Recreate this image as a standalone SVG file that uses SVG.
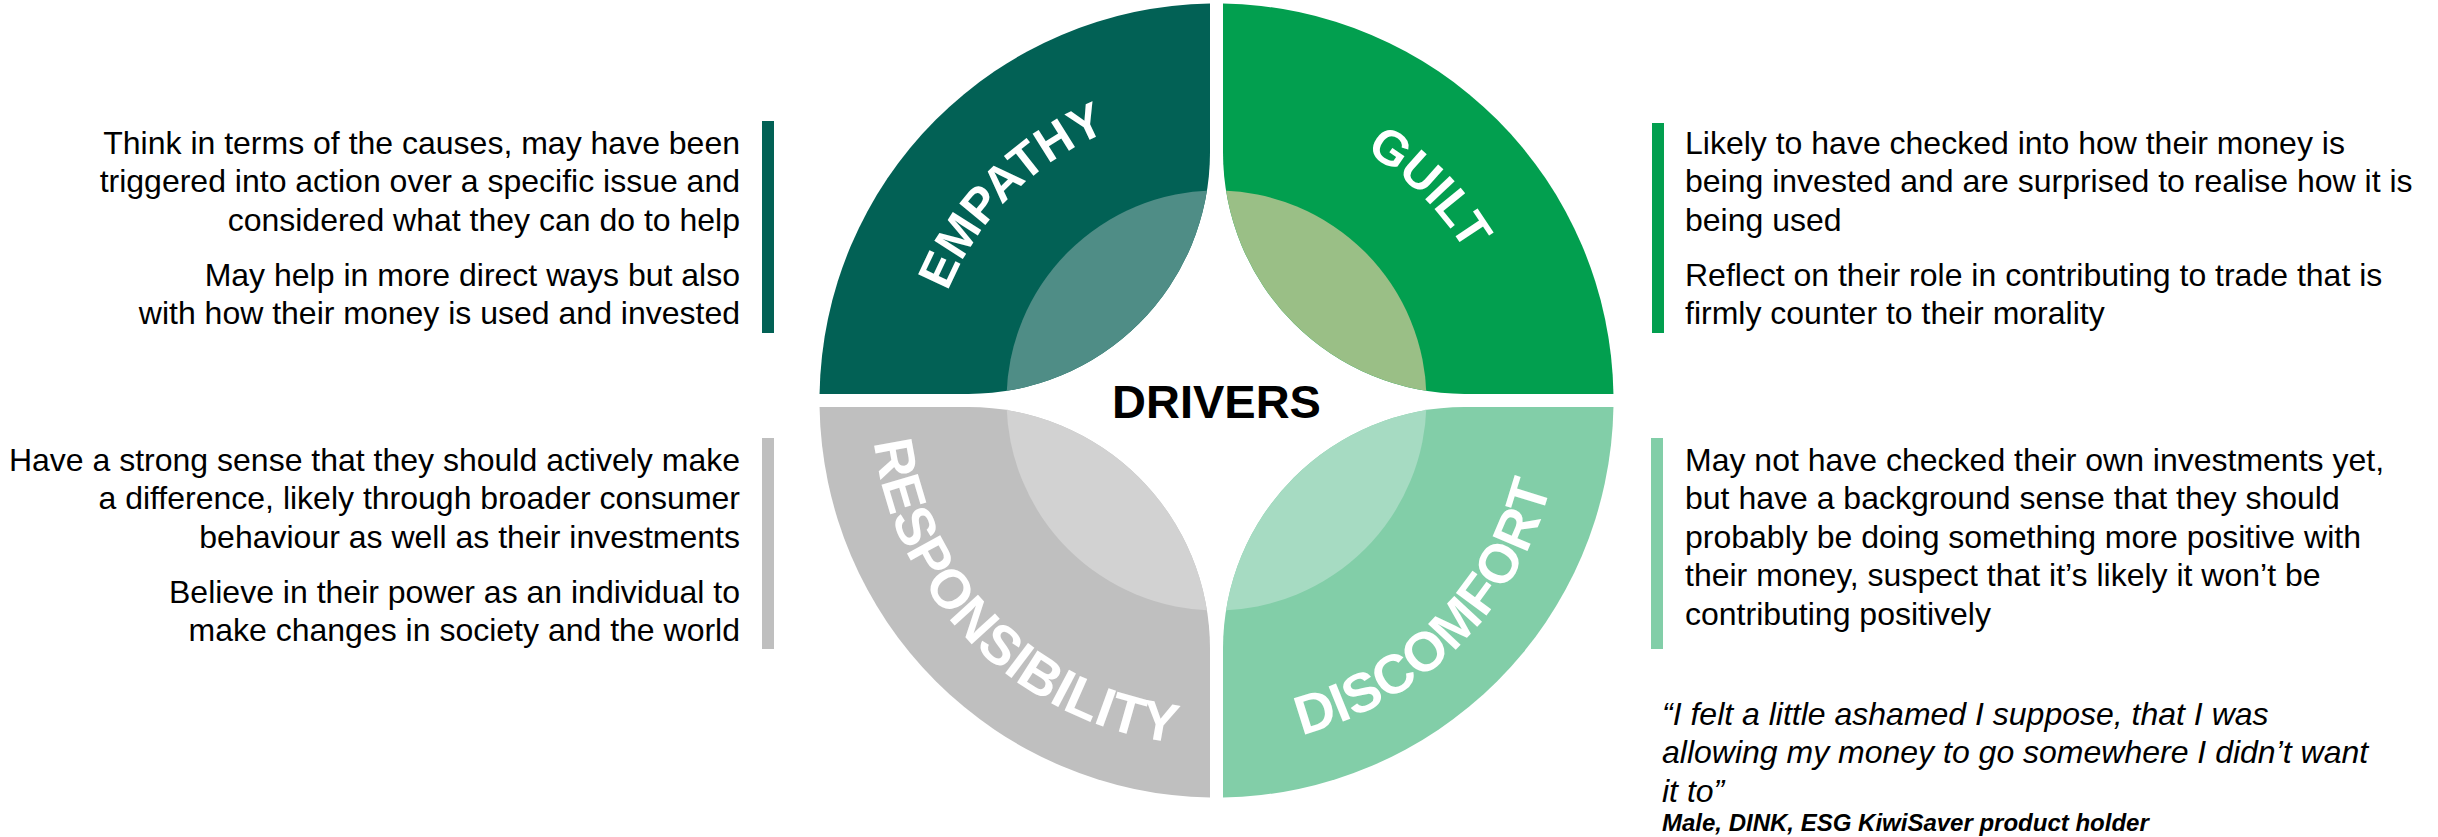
<svg xmlns="http://www.w3.org/2000/svg" width="2438" height="837" viewBox="0 0 2438 837">
<style>
.body{font-family:"Liberation Sans",Arial,sans-serif;font-size:32px;fill:#000}
.r{text-anchor:end}
.lbl{font-family:"Liberation Sans",Arial,sans-serif;font-weight:bold;fill:#fff}
.top{font-size:49px}
.bot{font-size:55px}
.quote{font-family:"Liberation Sans",Arial,sans-serif;font-style:italic;font-size:32px;fill:#000}
.src{font-family:"Liberation Sans",Arial,sans-serif;font-style:italic;font-weight:bold;font-size:24px;fill:#000}
.title{font-family:"Liberation Sans",Arial,sans-serif;font-weight:bold;font-size:47px;fill:#000;text-anchor:middle}
</style>
<defs>
<path id="qE" d="M1210,3.55 L1210,152.5 A241.5,241.5 0 0 1 968.5,394 L819.55,394 A397,397 0 0 1 1210,3.55 Z"/>
<path id="qG" d="M1223,3.55 L1223,152.5 A241.5,241.5 0 0 0 1464.5,394 L1613.45,394 A397,397 0 0 0 1223,3.55 Z"/>
<path id="qR" d="M1210,797.45 L1210,648.5 A241.5,241.5 0 0 0 968.5,407 L819.55,407 A397,397 0 0 0 1210,797.45 Z"/>
<path id="qD" d="M1223,797.45 L1223,648.5 A241.5,241.5 0 0 1 1464.5,407 L1613.45,407 A397,397 0 0 1 1223,797.45 Z"/>
<clipPath id="cE"><use href="#qE"/></clipPath>
<clipPath id="cG"><use href="#qG"/></clipPath>
<clipPath id="cR"><use href="#qR"/></clipPath>
<clipPath id="cD"><use href="#qD"/></clipPath>
<path id="tE" d="M926.5,400.5 A290,290 0 0 1 1216.5,110.5"/>
<path id="tG" d="M1216.5,110.5 A290,290 0 0 1 1506.5,400.5"/>
<path id="tR" d="M871.5,400.5 A345,345 0 0 0 1216.5,745.5"/>
<path id="tD" d="M1216.5,745.5 A345,345 0 0 0 1561.5,400.5"/>
</defs>
<rect width="2438" height="837" fill="#fff"/>

<g id="empathy">
<use href="#qE" fill="#026155"/>
<circle cx="1216.5" cy="400.5" r="210" fill="#4F8D86" clip-path="url(#cE)"/>
<text class="lbl top"><textPath href="#tE" startOffset="50%" text-anchor="middle">EMPATHY</textPath></text>
</g>
<g id="guilt">
<use href="#qG" fill="#029F4F"/>
<circle cx="1216.5" cy="400.5" r="210" fill="#9ABF86" clip-path="url(#cG)"/>
<text class="lbl top"><textPath href="#tG" startOffset="50%" text-anchor="middle">GUILT</textPath></text>
</g>
<g id="responsibility">
<use href="#qR" fill="#BFBFBF"/>
<circle cx="1216.5" cy="400.5" r="210" fill="#D2D2D2" clip-path="url(#cR)"/>
<text class="lbl bot"><textPath href="#tR" startOffset="50%" text-anchor="middle">RESPONSIBILITY</textPath></text>
</g>
<g id="discomfort">
<use href="#qD" fill="#82CEA8"/>
<circle cx="1216.5" cy="400.5" r="210" fill="#A6DBC2" clip-path="url(#cD)"/>
<text class="lbl bot"><textPath href="#tD" startOffset="50%" text-anchor="middle">DISCOMFORT</textPath></text>
</g>
<g id="drivers">
<text class="title" x="1216.5" y="418">DRIVERS</text>
</g>

<g id="empathy-text">
<rect x="762" y="121" width="12" height="212" fill="#026155"/>
<text class="body r" x="740" y="154">Think in terms of the causes, may have been</text>
<text class="body r" x="740" y="192.4">triggered into action over a specific issue and</text>
<text class="body r" x="740" y="230.8">considered what they can do to help</text>
<text class="body r" x="740" y="286">May help in more direct ways but also</text>
<text class="body r" x="740" y="324.4">with how their money is used and invested</text>
</g>
<g id="responsibility-text">
<rect x="762" y="438" width="12" height="211" fill="#BFBFBF"/>
<text class="body r" x="740" y="471">Have a strong sense that they should actively make</text>
<text class="body r" x="740" y="509.4">a difference, likely through broader consumer</text>
<text class="body r" x="740" y="547.8">behaviour as well as their investments</text>
<text class="body r" x="740" y="602.5">Believe in their power as an individual to</text>
<text class="body r" x="740" y="640.9">make changes in society and the world</text>
</g>
<g id="guilt-text">
<rect x="1652" y="123" width="12" height="210" fill="#029F4F"/>
<text class="body" x="1685" y="154">Likely to have checked into how their money is</text>
<text class="body" x="1685" y="192.4">being invested and are surprised to realise how it is</text>
<text class="body" x="1685" y="230.8">being used</text>
<text class="body" x="1685" y="286">Reflect on their role in contributing to trade that is</text>
<text class="body" x="1685" y="324.4">firmly counter to their morality</text>
</g>
<g id="discomfort-text">
<rect x="1651" y="438" width="12" height="211" fill="#82CEA8"/>
<text class="body" x="1685" y="471">May not have checked their own investments yet,</text>
<text class="body" x="1685" y="509.4">but have a background sense that they should</text>
<text class="body" x="1685" y="547.8">probably be doing something more positive with</text>
<text class="body" x="1685" y="586.2">their money, suspect that it’s likely it won’t be</text>
<text class="body" x="1685" y="624.6">contributing positively</text>
</g>
<g id="quote">
<text class="quote" x="1662" y="725">“I felt a little ashamed I suppose, that I was</text>
<text class="quote" x="1662" y="763.4">allowing my money to go somewhere I didn’t want</text>
<text class="quote" x="1662" y="801.8">it to”</text>
<text class="src" x="1662" y="831">Male, DINK, ESG KiwiSaver product holder</text>
</g>
<g id="connectors"/>
</svg>
